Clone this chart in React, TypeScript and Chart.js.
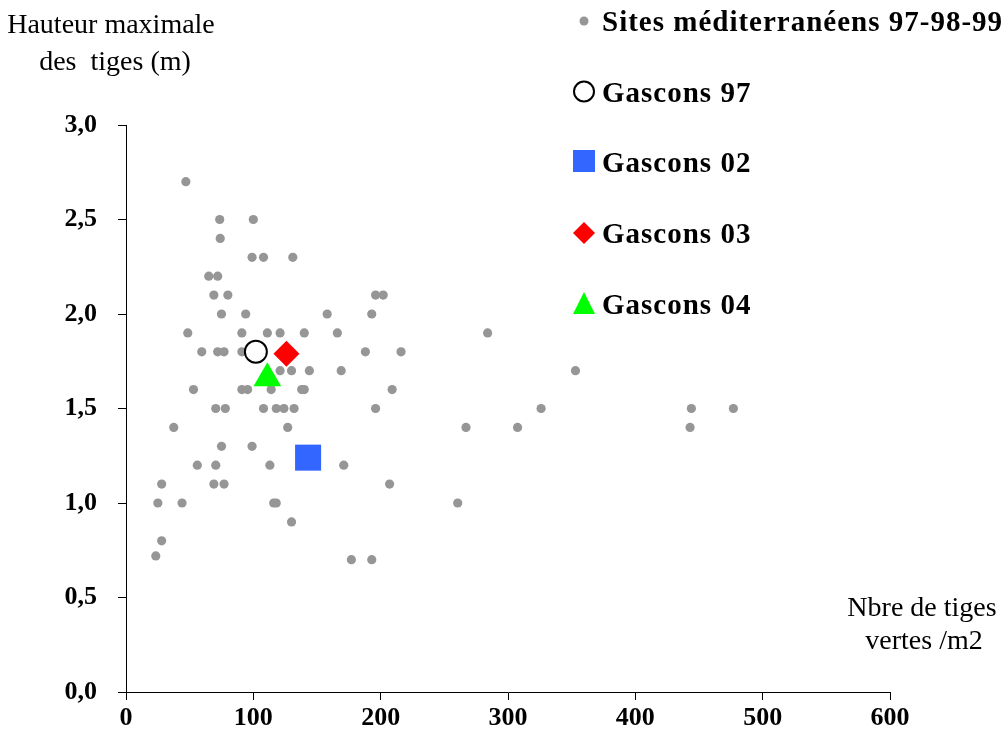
import React, { useEffect, useRef } from "react";
import { Chart, registerables } from "chart.js";

Chart.register(...registerables);

// Sites méditerranéens 97-98-99 : number of green stems /m2 and maximal height (m)
const medStems = [
  47,
  73.6, 100,
  74,
  99, 108, 131,
  65, 72,
  69, 80, 196, 202,
  75, 94, 158, 193,
  48.5, 91, 111, 121, 140, 166, 284,
  59.5, 72, 77, 91, 188, 216,
  121, 130, 144, 169, 353,
  53, 91, 95.5, 114, 138, 140, 209,
  70.5, 78, 108, 118, 124, 132, 196, 326, 444, 477,
  37.5, 127, 267, 307.5, 443,
  75, 99,
  56, 70.5, 113, 145, 171,
  28, 69, 77, 207,
  25, 44, 116, 118, 260.5,
  130,
  28,
  23.4,
  177, 193,
];
const medHeights = [
  2.7,
  2.5, 2.5,
  2.4,
  2.3, 2.3, 2.3,
  2.2, 2.2,
  2.1, 2.1, 2.1, 2.1,
  2.0, 2.0, 2.0, 2.0,
  1.9, 1.9, 1.9, 1.9, 1.9, 1.9, 1.9,
  1.8, 1.8, 1.8, 1.8, 1.8, 1.8,
  1.7, 1.7, 1.7, 1.7, 1.7,
  1.6, 1.6, 1.6, 1.6, 1.6, 1.6, 1.6,
  1.5, 1.5, 1.5, 1.5, 1.5, 1.5, 1.5, 1.5, 1.5, 1.5,
  1.4, 1.4, 1.4, 1.4, 1.4,
  1.3, 1.3,
  1.2, 1.2, 1.2, 1.2, 1.2,
  1.1, 1.1, 1.1, 1.1,
  1.0, 1.0, 1.0, 1.0, 1.0,
  0.9,
  0.8,
  0.72,
  0.7, 0.7,
];

const gasconsLabels = ["Gascons 97", "Gascons 02", "Gascons 03", "Gascons 04"];
const gasconsStems = [102, 143, 126, 111];
const gasconsHeights = [1.8, 1.24, 1.79, 1.66];

const medLabel = "Sites méditerranéens 97-98-99";
const xTickValues = [0, 100, 200, 300, 400, 500, 600];
const yTickValues = [0, 0.5, 1.0, 1.5, 2.0, 2.5, 3.0];
const yTitleLines = ["Hauteur maximale", "des  tiges (m)"];
const xTitleLines = ["Nbre de tiges", "vertes /m2"];

const SERIF = '"Liberation Serif", "Times New Roman", serif';

const overlayPlugin = {
  id: "overlay",
  afterDraw(chart: any) {
    const ctx: CanvasRenderingContext2D = chart.ctx;
    ctx.save();
    ctx.fillStyle = "#000";
    // axis titles
    ctx.font = `28px ${SERIF}`;
    ctx.textAlign = "center";
    ctx.textBaseline = "alphabetic";
    ctx.fillText(yTitleLines[0], 111, 33);
    ctx.fillText(yTitleLines[1], 115, 70);
    ctx.fillText(xTitleLines[0], 922, 616);
    ctx.fillText(xTitleLines[1], 924, 649);

    // legend
    const lx = 584;
    ctx.fillStyle = "rgb(150,150,150)";
    ctx.beginPath();
    ctx.arc(lx, 21, 4.5, 0, Math.PI * 2);
    ctx.fill();
    ctx.beginPath();
    ctx.arc(lx, 91.5, 10, 0, Math.PI * 2);
    ctx.fillStyle = "#fff";
    ctx.fill();
    ctx.lineWidth = 2;
    ctx.strokeStyle = "#000";
    ctx.stroke();
    ctx.fillStyle = "#3366FF";
    ctx.fillRect(lx - 11, 150, 22, 22);
    ctx.fillStyle = "#FF0000";
    ctx.beginPath();
    ctx.moveTo(lx, 222);
    ctx.lineTo(lx + 11, 233);
    ctx.lineTo(lx, 244);
    ctx.lineTo(lx - 11, 233);
    ctx.closePath();
    ctx.fill();
    ctx.fillStyle = "#00FF00";
    ctx.beginPath();
    ctx.moveTo(lx, 292);
    ctx.lineTo(lx + 11, 314);
    ctx.lineTo(lx - 11, 314);
    ctx.closePath();
    ctx.fill();

    ctx.fillStyle = "#000";
    ctx.font = `bold 29px ${SERIF}`;
    ctx.textAlign = "left";
    try {
      (ctx as any).letterSpacing = "1px";
    } catch (e) {}
    const tx = 602;
    ctx.fillText(medLabel, tx, 31);
    const baselines = [101.5, 171.5, 242.5, 313.5];
    gasconsLabels.forEach((l, i) => ctx.fillText(l, tx, baselines[i]));
    ctx.restore();
  },
};

export default function App() {
  const ref = useRef<HTMLCanvasElement | null>(null);

  useEffect(() => {
    if (!ref.current) return;
    const medData = medStems.map((x, i) => ({ x, y: medHeights[i] }));
    const g = (i: number) => [{ x: gasconsStems[i], y: gasconsHeights[i] }];
    const chart = new Chart(ref.current, {
      type: "scatter",
      data: {
        datasets: [
          {
            label: medLabel,
            data: medData,
            backgroundColor: "rgb(150,150,150)",
            borderWidth: 0,
            pointRadius: 4.6,
            pointHoverRadius: 4.6,
            order: 10,
          },
          {
            label: gasconsLabels[0],
            data: g(0),
            pointStyle: "circle",
            backgroundColor: "#ffffff",
            borderColor: "#000000",
            borderWidth: 2,
            pointRadius: 11,
            order: 1,
          },
          {
            label: gasconsLabels[1],
            data: g(1),
            pointStyle: "rect",
            backgroundColor: "#3366FF",
            borderWidth: 0,
            pointRadius: 18.4,
            order: 2,
          },
          {
            label: gasconsLabels[2],
            data: g(2),
            pointStyle: "rectRot",
            backgroundColor: "#FF0000",
            borderWidth: 0,
            pointRadius: 13,
            order: 3,
          },
          {
            label: gasconsLabels[3],
            data: g(3),
            pointStyle: "triangle",
            backgroundColor: "#00FF00",
            borderWidth: 0,
            pointRadius: 16,
            order: 4,
          },
        ] as any,
      },
      options: {
        responsive: false,
        animation: false,
        devicePixelRatio: 1,
        layout: { padding: { top: 125, right: 117, left: 0, bottom: 0 } },
        plugins: {
          legend: { display: false },
          tooltip: { enabled: false },
          title: { display: false },
        },
        scales: {
          x: {
            type: "linear",
            min: 0,
            max: 600,
            afterFit: (s: any) => {
              s.height = 50;
            },
            afterBuildTicks: (s: any) => {
              s.ticks = xTickValues.map((v) => ({ value: v }));
            },
            ticks: {
              color: "#000",
              font: { family: SERIF, size: 26, weight: "bold" },
              padding: 3,
              maxRotation: 0,
              autoSkip: false,
              callback: (v: any) => String(v),
            },
            grid: {
              display: true,
              drawOnChartArea: false,
              drawTicks: true,
              tickLength: 8,
              color: "#000",
              lineWidth: 1,
            },
            border: { display: true, color: "#000", width: 1 },
          },
          y: {
            type: "linear",
            min: 0,
            max: 3,
            afterFit: (s: any) => {
              s.width = 126;
            },
            afterBuildTicks: (s: any) => {
              s.ticks = yTickValues.map((v) => ({ value: v }));
            },
            ticks: {
              color: "#000",
              font: { family: SERIF, size: 26, weight: "bold" },
              padding: 21,
              autoSkip: false,
              callback: (v: any) => Number(v).toFixed(1).replace(".", ","),
            },
            grid: {
              display: true,
              drawOnChartArea: false,
              drawTicks: true,
              tickLength: 8,
              color: "#000",
              lineWidth: 1,
            },
            border: { display: true, color: "#000", width: 1 },
          },
        },
      },
      plugins: [overlayPlugin],
    });
    return () => chart.destroy();
  }, []);

  return (
    <div style={{ position: "absolute", left: 0, top: 0, width: 1007, height: 742, background: "#fff" }}>
      <canvas ref={ref} width={1007} height={742} style={{ width: 1007, height: 742, display: "block" }} />
    </div>
  );
}
